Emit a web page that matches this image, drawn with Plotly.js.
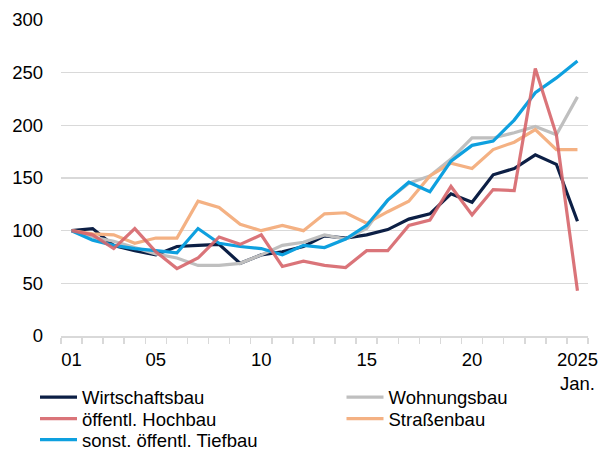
<!DOCTYPE html>
<html>
<head>
<meta charset="utf-8">
<script src="https://cdn.plot.ly/plotly-3.0.1.min.js"></script>
<style>
  html, body { margin: 0; padding: 0; background: #fff; }
  #chart { width: 607px; height: 452px; }
</style>
</head>
<body>
<div id="chart"></div>
<script>
const years = [1,2,3,4,5,6,7,8,9,10,11,12,13,14,15,16,17,18,19,20,21,22,23,24,25];
const tickVals = [1,5,10,15,20,25];
const tickText = ["01","05","10","15","20","2025<br>Jan."];

const wirtschaftsbau = [100,102,86,81,77,85,86,87,69,77,80,85,95,93,96,101,111,116,135,127,153,159,172,163,109];
const wohnungsbau    = [100,94,90,84,78,74,67,67,69,77,86,89,96,92,102,129,145,152,168,188,188,193,199,191,227];
const hochbau        = [100,96,83,102,80,64,74,94,87,96,66,71,67,65,81,81,105,110,142,115,139,138,254,191,43];
const strassenbau    = [100,97,96,88,93,93,128,122,106,100,105,100,116,117,107,118,128,152,164,159,177,184,196,177,177];
const tiefbau        = [100,91,86,83,81,79,102,88,85,83,77,86,84,92,105,129,146,137,166,181,185,205,231,245,261];

const names = ["Wirtschaftsbau","Wohnungsbau","öffentl. Hochbau","Straßenbau","sonst. öffentl. Tiefbau"];

function tr(y, name, color, legendId, opacity) {
  return {
    x: years, y: y, name: name, type: "scatter", mode: "lines",
    line: {color: color, width: 3.2},
    opacity: opacity || 1,
    legend: legendId,
    hoverinfo: "skip"
  };
}

const data = [
  tr(wirtschaftsbau, names[0], "#0c1f45", "legend"),
  tr(wohnungsbau, names[1], "#bfbfbf", "legend2"),
  tr(strassenbau, names[3], "#f4b183", "legend4"),
  tr(tiefbau, names[4], "#0ea0df", "legend5"),
  tr(hochbau, names[2], "#d6656a", "legend3", 0.9)
];

const font = {family: "Liberation Sans, Arial, sans-serif", size: 18.5, color: "#000"};

function leg(xpx, ypx) {
  return {
    xref: "container", yref: "container",
    x: xpx / 607, xanchor: "left",
    y: 1 - ypx / 452, yanchor: "middle",
    orientation: "h", itemwidth: 37, font: font,
    bgcolor: "rgba(0,0,0,0)", borderwidth: 0
  };
}

const col1 = 35, col2 = 341.5;
const row1 = 397.5, row2 = 419, row3 = 440;

const layout = {
  width: 607, height: 452,
  margin: {l: 61, r: 19, t: 20, b: 116},
  paper_bgcolor: "#fff", plot_bgcolor: "#fff",
  font: font,
  showlegend: true,
  xaxis: {
    range: [0.5, 25.5],
    tickmode: "array", tickvals: tickVals, ticktext: tickText,
    ticks: "", showgrid: false, zeroline: false,
    showline: true, linecolor: "#d9d9d9", linewidth: 1.5,
    tickfont: font, ticklabelstandoff: 6,
    minor: {tick0: 0.5, dtick: 1, ticks: "outside", ticklen: 6, tickcolor: "#d9d9d9", tickwidth: 1.5, showgrid: false}
  },
  yaxis: {
    range: [0, 300], dtick: 50, tick0: 0,
    showgrid: true, gridcolor: "#d9d9d9", gridwidth: 1.5,
    zeroline: false, showline: false, ticks: "",
    tickfont: font, ticklabelstandoff: 17
  },
  legend: leg(col1, row1),
  legend2: leg(col2, row1),
  legend3: leg(col1, row2),
  legend4: leg(col2, row2),
  legend5: leg(col1, row3)
};

Plotly.newPlot("chart", data, layout, {displayModeBar: false, staticPlot: true});
</script>
</body>
</html>
